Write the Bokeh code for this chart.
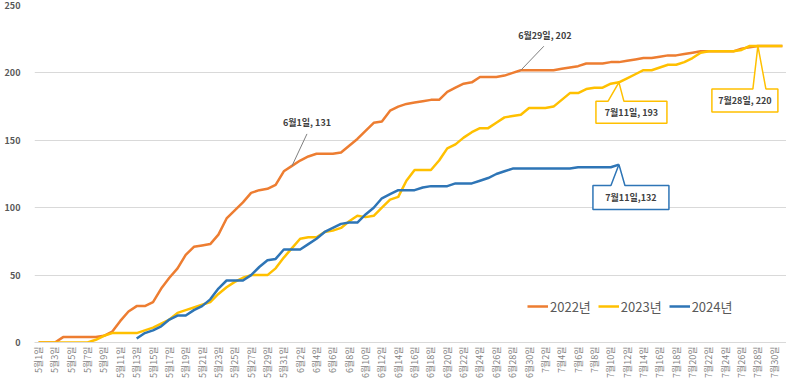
import math
import numpy as np
from bokeh.plotting import figure
from bokeh.models import Range1d, FixedTicker, CustomJSTickFormatter, Legend, LegendItem
from bokeh.core.properties import value
from bokeh.embed import file_html
from bokeh.resources import INLINE

# ---------------- data ----------------
months = [("5월", 31), ("6월", 30), ("7월", 31)]
day_labels = [f"{m}{d}일" for m, n in months for d in range(1, n + 1)]

v2022 = [0, 0, 0, 4, 4, 4, 4, 4, 5, 8,
         16, 23, 27, 27, 30, 40, 48, 55, 65, 71,
         72, 73, 80, 92, 98, 104, 111, 113, 114, 117,
         127, 131, 135, 138, 140, 140, 140, 141, 146, 151,
         157, 163, 164, 172, 175, 177, 178, 179, 180, 180,
         186, 189, 192, 193, 197, 197, 197, 198, 200, 202,
         202, 202, 202, 202, 203, 204, 205, 207, 207, 207,
         208, 208, 209, 210, 211, 211, 212, 213, 213, 214,
         215, 216, 216, 216, 216, 216, 218, 219, 220, 220,
         220, 220]

v2023 = [0, 0, 0, 0, 0, 0, 0, 2, 5, 7,
         7, 7, 7, 9, 11, 14, 17, 22, 24, 26,
         28, 30, 36, 41, 45, 48, 50, 50, 50, 55,
         63, 70, 77, 78, 78, 82, 83, 85, 90, 94,
         93, 94, 100, 106, 108, 120, 128, 128, 128, 135,
         144, 147, 152, 156, 159, 159, 163, 167, 168, 169,
         174, 174, 174, 175, 180, 185, 185, 188, 189, 189,
         192, 193, 196, 199, 202, 202, 204, 206, 206, 208,
         211, 215, 216, 216, 216, 216, 217, 220, 220, 220,
         220, 220]

v2024 = [None] * 12 + [
         3, 7, 9, 12, 17, 20, 20, 24,
         27, 32, 40, 46, 46, 46, 50, 56, 61, 62,
         69, 69, 69, 73, 77, 82, 85, 88, 89, 89,
         95, 100, 107, 110, 113, 113, 113, 115, 116, 116,
         116, 118, 118, 118, 120, 122, 125, 127, 129, 129,
         129, 129, 129, 129, 129, 129, 130, 130, 130, 130,
         130, 132] + [None] * 20

series_names = ["2022년", "2023년", "2024년"]
series_values = [v2022, v2023, v2024]
series_colors = ["#ED7D31", "#FFC000", "#2E75B6"]

y_ticks = [0, 50, 100, 150, 200, 250]

# callouts: (series index, day label, separator)
callouts = [
    (0, "6월1일", ", "),
    (0, "6월29일", ", "),
    (1, "7월11일", ", "),
    (1, "7월28일", ", "),
    (2, "7월11일", ","),
]

# ---------------- layout / styles ----------------
FRAME_W, FRAME_H = 752, 337
N = len(day_labels)
px_per_day = FRAME_W / N
px_per_unit = FRAME_H / (y_ticks[-1] - y_ticks[0])

FONT = "Noto Sans CJK KR"

p = figure(frame_width=FRAME_W, frame_height=FRAME_H,
           output_backend="svg", toolbar_location=None,
           x_range=Range1d(-0.5, N - 0.5), y_range=Range1d(y_ticks[0], y_ticks[-1]),
           min_border_left=34, min_border_right=0, min_border_top=5, min_border_bottom=0)
p.outline_line_color = None
p.background_fill_color = "white"
p.border_fill_color = "white"

p.xgrid.grid_line_color = None
p.ygrid.grid_line_color = "#D9D9D9"
p.ygrid.grid_line_width = 1

p.yaxis.ticker = FixedTicker(ticks=y_ticks)
p.yaxis.axis_line_color = None
p.yaxis.major_tick_line_color = None
p.yaxis.minor_tick_line_color = None
p.yaxis.major_tick_out = 0
p.yaxis.major_label_standoff = 14
p.yaxis.major_label_text_font = FONT
p.yaxis.major_label_text_font_size = "9px"
p.yaxis.major_label_text_font_style = "bold"
p.yaxis.major_label_text_color = "#595959"

p.xaxis.ticker = FixedTicker(ticks=list(range(0, N, 2)))
p.xaxis.formatter = CustomJSTickFormatter(args=dict(labels=day_labels),
                                          code="return labels[Math.round(tick)] || '';")
p.xaxis.major_label_orientation = math.pi / 2
p.xaxis.axis_line_color = "#D9D9D9"
p.xaxis.major_tick_line_color = None
p.xaxis.minor_tick_line_color = None
p.xaxis.major_tick_out = 0
p.xaxis.major_label_standoff = 4
p.xaxis.major_label_text_font = FONT
p.xaxis.major_label_text_font_size = "9px"
p.xaxis.major_label_text_color = "#7F7F7F"

days = np.arange(N)
renderers = []
for name, vals, col in zip(series_names, series_values, series_colors):
    y = np.array([np.nan if v is None else v for v in vals], dtype=float)
    r = p.line(days, y, line_color=col, line_width=2.5, line_join="round")
    renderers.append(r)

legend = Legend(items=[LegendItem(label=n, renderers=[r]) for n, r in zip(series_names, renderers)],
                orientation="horizontal", location=(493, 26))
legend.border_line_color = None
legend.background_fill_alpha = 0
legend.label_text_font = FONT
legend.label_text_font_size = "13px"
legend.label_text_color = "#595959"
legend.glyph_width = 21
legend.label_standoff = 2
legend.spacing = 7
legend.padding = 0
legend.margin = 0
p.add_layout(legend)

# callout geometry (screen px offsets from the data point, y down)
plain_style = {"6월1일": dict(text=(15, -43), line=(15, -32)),
               "6월29일": dict(text=(24, -35), line=(23, -24))}
box_style = {(1, "7월11일"): dict(box=(-23, 48, 19, 41), wedge=(-11, 5)),
             (1, "7월28일"): dict(box=(-46, 20, 43, 66), wedge=(-5, 8)),
             (2, "7월11일"): dict(box=(-26, 50, 21, 45), wedge=(-8, 6))}


def off(day, val, dx, dy):
    return day + dx / px_per_day, val - dy / px_per_unit


for si, lab, sep in callouts:
    d = day_labels.index(lab)
    v = series_values[si][d]
    txt = f"{lab}{sep}{v}"
    if (si, lab) in box_style:
        st = box_style[(si, lab)]
        l, r_, t, b = st["box"]
        w0, w1 = st["wedge"]
        pts = [(0, 0), (w1, t), (r_, t), (r_, b), (l, b), (l, t), (w0, t)]
        xs, ys = zip(*[off(d, v, dx, dy) for dx, dy in pts])
        p.patch(list(xs), list(ys), fill_color="white", line_color=series_colors[si], line_width=1.5)
        tx, ty = off(d, v, (l + r_) / 2, (t + b) / 2)
    else:
        st = plain_style[lab]
        lx, ly = off(d, v, *st["line"])
        p.segment(x0=[d], y0=[v], x1=[lx], y1=[ly], line_color="#7F7F7F", line_width=1)
        tx, ty = off(d, v, *st["text"])
    p.text(x=[tx], y=[ty], text=[txt], text_align="center", text_baseline="middle",
           text_font=value(FONT), text_font_size="9px", text_font_style="bold",
           text_color="#404040")

open("out.html", "w").write(file_html(p, INLINE))
